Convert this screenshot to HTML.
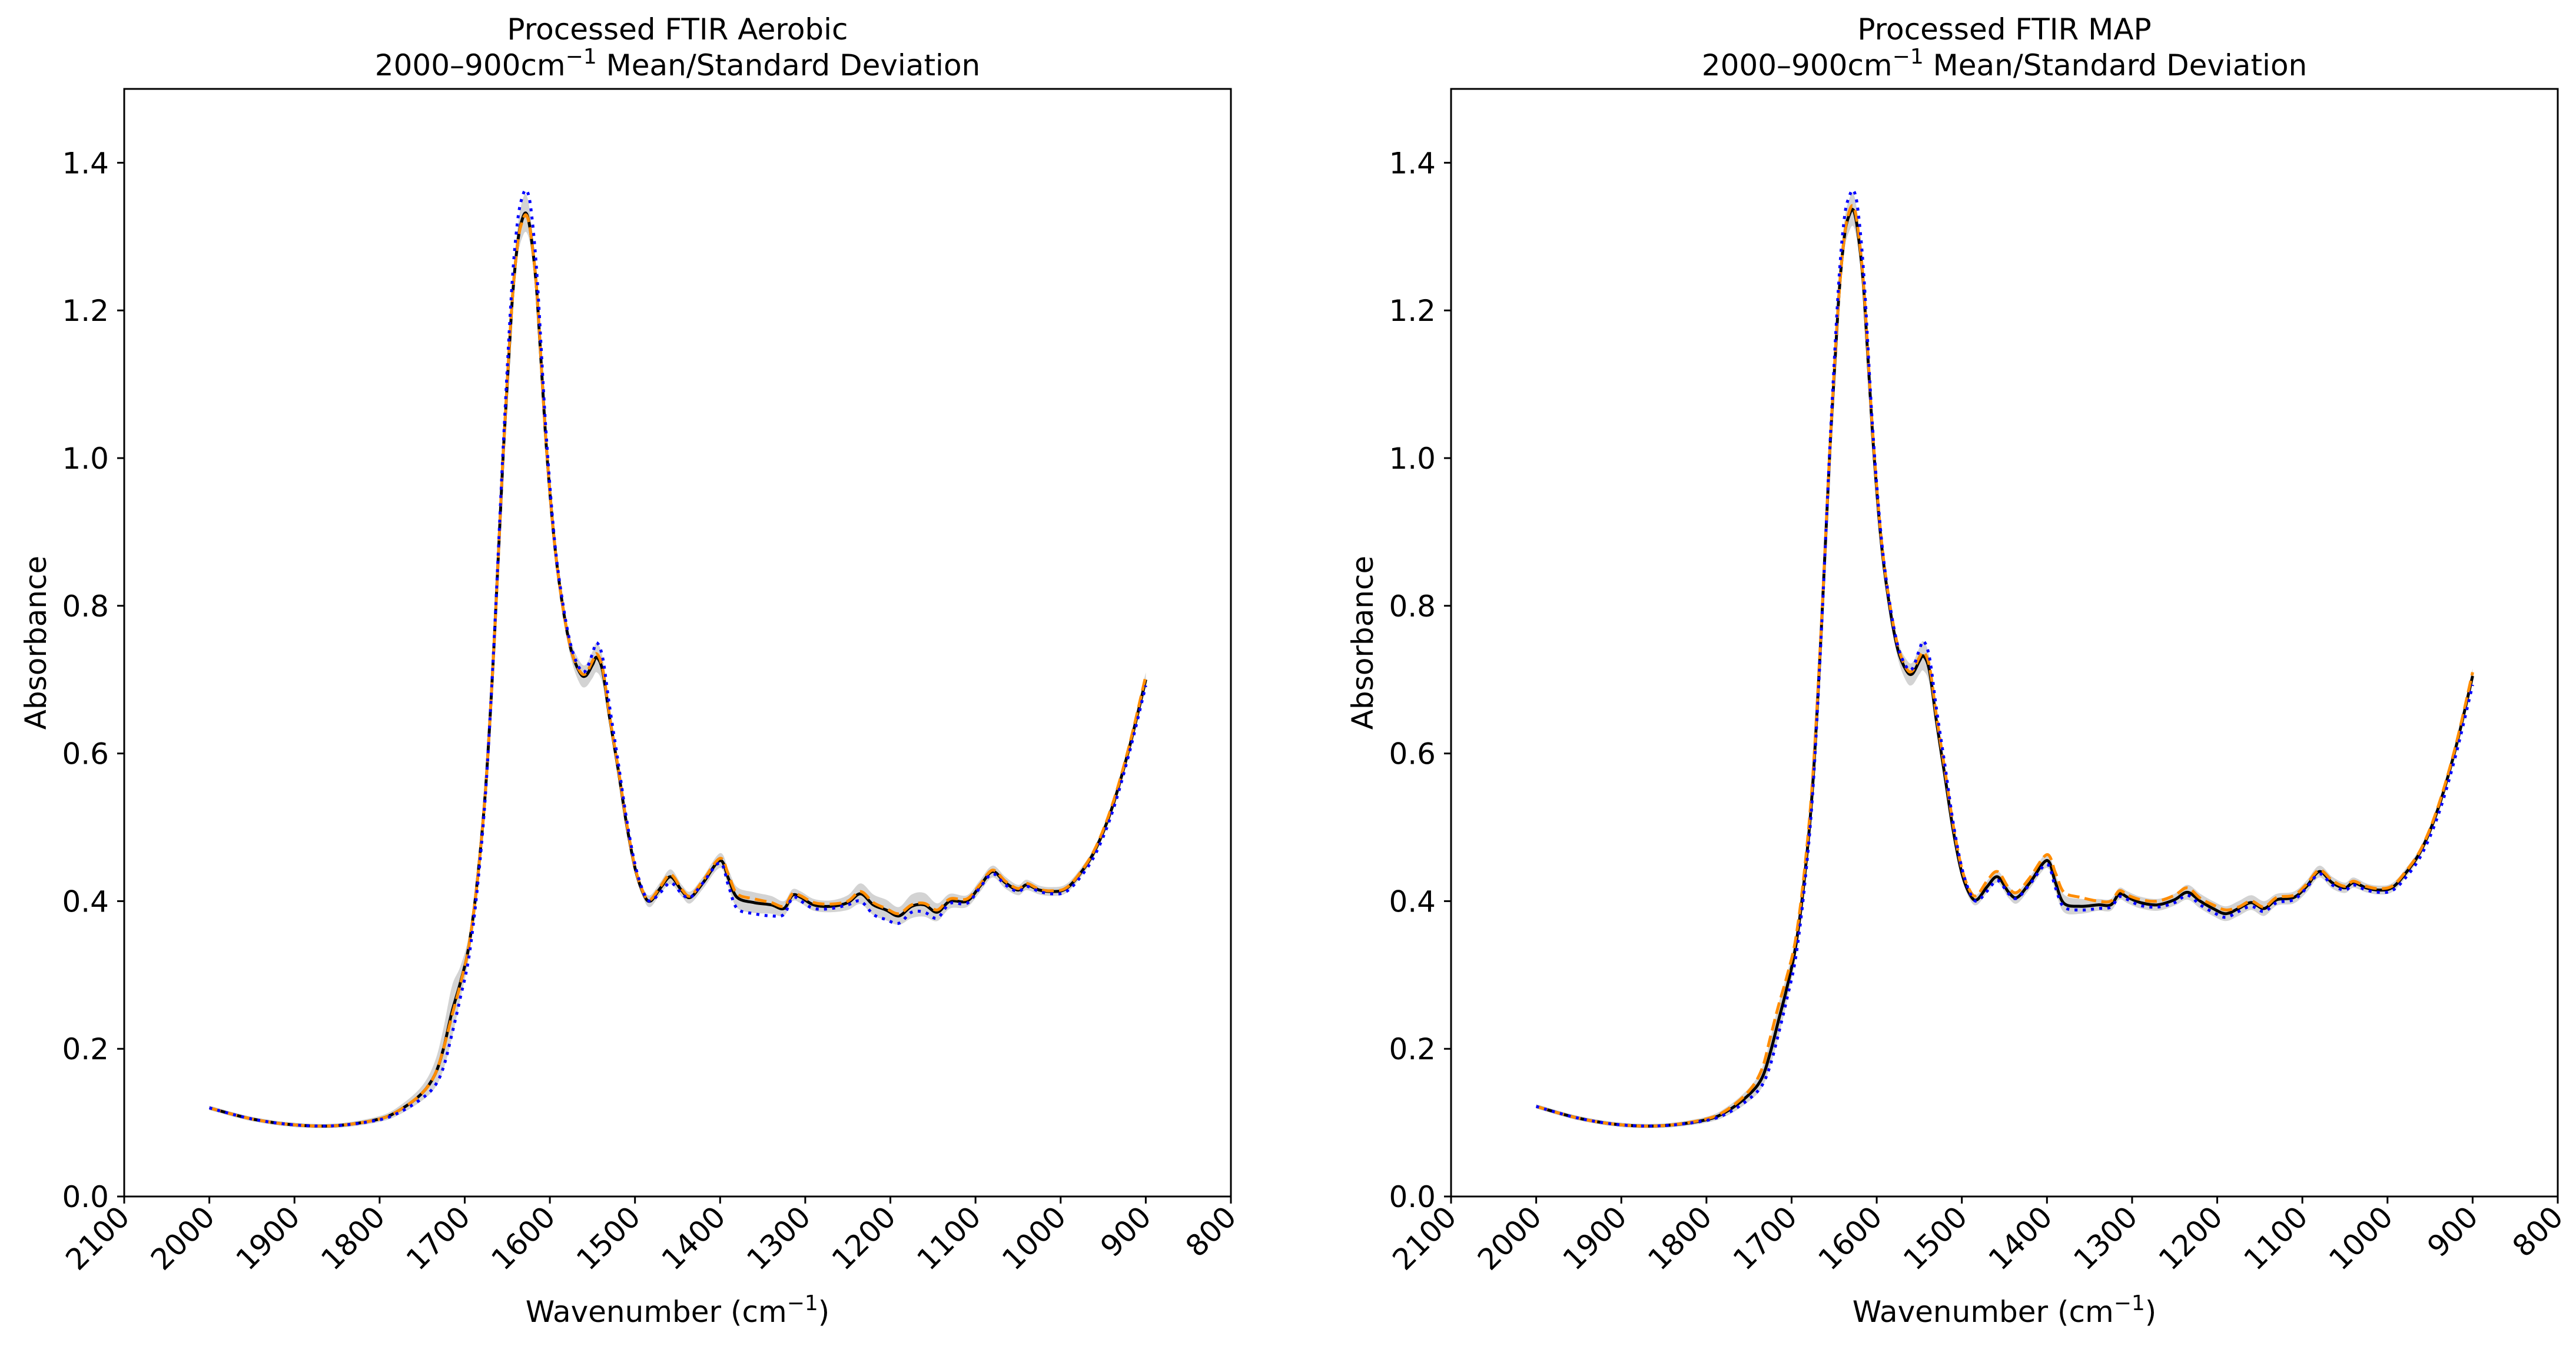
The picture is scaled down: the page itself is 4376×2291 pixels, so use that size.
<!DOCTYPE html>
<html><head><meta charset="utf-8"><style>
html,body{margin:0;padding:0;background:#fff;}
svg{display:block;font-family:"DejaVu Sans","Liberation Sans",sans-serif;}
</style></head><body>
<svg id="fig" width="4376" height="2291" viewBox="0 0 4376 2291" xmlns="http://www.w3.org/2000/svg"></svg>
<script>
// ---- data ----
const wavenumbers = [2000,1950,1900,1850,1800,1775,1750,1735,1725,1715,1705,1695,1685,1675,1665,1655,1645,1638,1632,1627,1622,1615,1605,1595,1585,1575,1565,1558,1550,1545,1538,1530,1520,1510,1500,1490,1482,1470,1458,1445,1435,1420,1400,1390,1380,1360,1340,1325,1315,1305,1290,1270,1250,1235,1220,1205,1190,1175,1160,1145,1130,1110,1095,1080,1065,1050,1040,1025,1010,995,980,960,940,920,900];
const aerobicMean = [0.120,0.105,0.097,0.096,0.105,0.118,0.140,0.165,0.200,0.250,0.290,0.340,0.430,0.560,0.760,1.000,1.200,1.290,1.325,1.330,1.300,1.220,1.030,0.890,0.800,0.740,0.710,0.705,0.720,0.730,0.712,0.650,0.580,0.505,0.445,0.410,0.400,0.418,0.433,0.414,0.405,0.425,0.455,0.430,0.405,0.398,0.395,0.390,0.408,0.405,0.395,0.393,0.398,0.410,0.395,0.388,0.380,0.393,0.395,0.385,0.400,0.400,0.420,0.440,0.425,0.415,0.422,0.415,0.413,0.416,0.433,0.468,0.525,0.605,0.700];
const aerobicOrange = [0.120,0.105,0.097,0.096,0.105,0.118,0.140,0.165,0.200,0.245,0.288,0.340,0.430,0.560,0.760,1.000,1.200,1.290,1.322,1.328,1.300,1.220,1.030,0.890,0.800,0.740,0.712,0.708,0.725,0.735,0.715,0.652,0.582,0.507,0.446,0.411,0.402,0.420,0.436,0.416,0.407,0.428,0.458,0.435,0.410,0.403,0.398,0.393,0.410,0.407,0.398,0.396,0.400,0.413,0.398,0.390,0.383,0.395,0.397,0.388,0.403,0.403,0.422,0.442,0.427,0.417,0.424,0.416,0.414,0.417,0.434,0.470,0.528,0.608,0.705];
const aerobicBlue = [0.120,0.105,0.097,0.096,0.104,0.115,0.133,0.150,0.175,0.220,0.270,0.325,0.420,0.555,0.765,1.010,1.225,1.320,1.355,1.362,1.335,1.245,1.045,0.895,0.805,0.745,0.715,0.712,0.735,0.750,0.730,0.665,0.590,0.512,0.450,0.412,0.400,0.412,0.425,0.410,0.405,0.425,0.452,0.420,0.390,0.383,0.380,0.382,0.405,0.400,0.390,0.390,0.395,0.400,0.382,0.375,0.370,0.385,0.385,0.377,0.397,0.397,0.418,0.437,0.422,0.413,0.420,0.413,0.410,0.412,0.428,0.462,0.518,0.598,0.692];
const aerobicStd = [0.003,0.003,0.003,0.003,0.004,0.006,0.010,0.018,0.028,0.035,0.022,0.015,0.012,0.012,0.012,0.012,0.015,0.020,0.025,0.025,0.020,0.015,0.012,0.010,0.010,0.012,0.015,0.015,0.018,0.020,0.018,0.012,0.010,0.008,0.007,0.007,0.008,0.008,0.010,0.008,0.008,0.008,0.010,0.012,0.014,0.014,0.012,0.010,0.008,0.008,0.008,0.008,0.010,0.014,0.014,0.014,0.012,0.016,0.016,0.012,0.010,0.008,0.008,0.008,0.008,0.007,0.007,0.006,0.006,0.006,0.006,0.006,0.007,0.008,0.010];
const mapMean = [0.122,0.106,0.097,0.096,0.104,0.116,0.138,0.160,0.195,0.240,0.285,0.340,0.430,0.560,0.770,1.010,1.210,1.300,1.330,1.335,1.305,1.225,1.035,0.890,0.800,0.740,0.712,0.708,0.725,0.732,0.712,0.645,0.570,0.495,0.438,0.408,0.402,0.420,0.433,0.412,0.405,0.425,0.455,0.425,0.397,0.393,0.395,0.395,0.410,0.405,0.398,0.395,0.402,0.412,0.400,0.390,0.383,0.390,0.398,0.390,0.402,0.405,0.420,0.440,0.425,0.418,0.425,0.418,0.415,0.418,0.436,0.470,0.527,0.607,0.705];
const mapOrange = [0.122,0.106,0.097,0.096,0.105,0.118,0.143,0.172,0.215,0.260,0.300,0.350,0.440,0.570,0.775,1.012,1.210,1.300,1.335,1.340,1.310,1.228,1.040,0.895,0.805,0.745,0.715,0.712,0.730,0.737,0.718,0.652,0.578,0.502,0.444,0.413,0.408,0.428,0.440,0.418,0.412,0.432,0.463,0.438,0.412,0.405,0.400,0.400,0.414,0.408,0.402,0.400,0.408,0.418,0.404,0.395,0.388,0.392,0.400,0.392,0.405,0.408,0.423,0.442,0.428,0.420,0.427,0.420,0.417,0.420,0.438,0.472,0.530,0.610,0.710];
const mapBlue = [0.122,0.106,0.097,0.096,0.103,0.113,0.132,0.150,0.178,0.222,0.270,0.325,0.418,0.550,0.765,1.015,1.230,1.325,1.355,1.362,1.335,1.245,1.045,0.897,0.805,0.745,0.717,0.715,0.740,0.752,0.730,0.662,0.585,0.505,0.445,0.410,0.400,0.414,0.428,0.410,0.404,0.423,0.450,0.418,0.392,0.388,0.390,0.392,0.406,0.402,0.394,0.392,0.398,0.408,0.395,0.385,0.378,0.386,0.393,0.386,0.398,0.402,0.418,0.437,0.422,0.415,0.422,0.415,0.412,0.414,0.430,0.463,0.518,0.597,0.693];
const mapStd = [0.003,0.003,0.003,0.003,0.004,0.006,0.009,0.013,0.018,0.022,0.018,0.014,0.012,0.012,0.012,0.012,0.015,0.020,0.022,0.022,0.020,0.015,0.012,0.010,0.010,0.012,0.015,0.015,0.018,0.020,0.018,0.012,0.010,0.008,0.007,0.007,0.007,0.008,0.008,0.008,0.008,0.008,0.010,0.012,0.012,0.010,0.008,0.008,0.008,0.008,0.008,0.008,0.008,0.010,0.010,0.010,0.010,0.010,0.010,0.010,0.008,0.008,0.008,0.008,0.008,0.007,0.007,0.006,0.006,0.006,0.006,0.006,0.007,0.008,0.010];
const xTicks = [2100,2000,1900,1800,1700,1600,1500,1400,1300,1200,1100,1000,900,800];
const yTicks = [0.0,0.2,0.4,0.6,0.8,1.0,1.2,1.4];
const panelTitles = ["Processed FTIR Aerobic","Processed FTIR MAP"];

// ---- drawing ----
const NS = "http://www.w3.org/2000/svg";
const svg = document.getElementById('fig');
function mk(tag, attrs, parent){ const e=document.createElementNS(NS,tag); for(const k in attrs) e.setAttribute(k,attrs[k]); (parent||svg).appendChild(e); return e; }
function smoothPath(pts){
  let d = `M${pts[0][0].toFixed(1)},${pts[0][1].toFixed(1)}`;
  for(let i=0;i<pts.length-1;i++){
    const p0=pts[Math.max(0,i-1)],p1=pts[i],p2=pts[i+1],p3=pts[Math.min(pts.length-1,i+2)];
    const c1x=p1[0]+(p2[0]-p0[0])/6,c1y=p1[1]+(p2[1]-p0[1])/6;
    const c2x=p2[0]-(p3[0]-p1[0])/6,c2y=p2[1]-(p3[1]-p1[1])/6;
    d+=`C${c1x.toFixed(1)},${c1y.toFixed(1)} ${c2x.toFixed(1)},${c2y.toFixed(1)} ${p2[0].toFixed(1)},${p2[1].toFixed(1)}`;
  }
  return d;
}
const FS = 50;
function panel(left, title, mean, orange, blue, std, key){
  const right = left + 1880, top = 151, bottom = 2032;
  const xs = v => left + (2100 - v) / 1300 * (right - left);
  const ys = v => bottom - v / 1.5 * (bottom - top);
  const g = mk('g', {});
  
  
  // band
  const up = wavenumbers.map((w,i)=>[xs(w),ys(mean[i]+std[i])]);
  const lo = wavenumbers.map((w,i)=>[xs(w),ys(mean[i]-std[i])]).reverse();
  const bandD = smoothPath(up) + smoothPath(lo).replace('M','L') + 'Z';
  const band = mk('path', {d: bandD, fill: '#d3d3d3', stroke: 'none'}, g);
  
  
  const mline = mk('path', {d: smoothPath(wavenumbers.map((w,i)=>[xs(w),ys(mean[i])])), fill:'none', stroke:'#000', 'stroke-width':5}, g);
  
  
  const oline = mk('path', {d: smoothPath(wavenumbers.map((w,i)=>[xs(w),ys(orange[i])])), fill:'none', stroke:'#ff8c00', 'stroke-width':5, 'stroke-dasharray':'20 9'}, g);
  
  
  const bline = mk('path', {d: smoothPath(wavenumbers.map((w,i)=>[xs(w),ys(blue[i])])), fill:'none', stroke:'#0000ff', 'stroke-width':5, 'stroke-dasharray':'5 9'}, g);
  
  
  // frame
  const frame = mk('rect', {x:left, y:top, width:right-left, height:bottom-top, fill:'none', stroke:'#000', 'stroke-width':3}, g);
  
  
  xTicks.forEach(t=>{
    const x = xs(t);
    mk('line', {x1:x, x2:x, y1:bottom, y2:bottom+12, stroke:'#000', 'stroke-width':3}, g);
    const tx = mk('text', {x:0, y:0, 'font-size':FS, 'text-anchor':'end', transform:`translate(${x+12},${bottom+38}) rotate(-45)`}, g);
    tx.textContent = t;
    
    
  });
  yTicks.forEach(t=>{
    const y = ys(t);
    mk('line', {x1:left-12, x2:left, y1:y, y2:y, stroke:'#000', 'stroke-width':3}, g);
    const ty = mk('text', {x:left-26, y:y+18, 'font-size':FS, 'text-anchor':'end'}, g);
    ty.textContent = t.toFixed(1);
    
    
  });
  const cx = (left+right)/2;
  const t1 = mk('text', {x:cx, y:67, 'font-size':FS, 'text-anchor':'middle'}, g);
  t1.textContent = title;
  
  
  const t2 = mk('text', {x:cx, y:128, 'font-size':FS, 'text-anchor':'middle'}, g);
  t2.innerHTML = '2000–900cm<tspan dy="-20" font-size="36">−1</tspan><tspan dy="20"> Mean/Standard Deviation</tspan>';
  
  
  const xl = mk('text', {x:cx, y:2245, 'font-size':FS, 'text-anchor':'middle'}, g);
  xl.innerHTML = 'Wavenumber (cm<tspan dy="-20" font-size="36">−1</tspan><tspan dy="20">)</tspan>';
  
  
  const yl = mk('text', {x:0, y:0, 'font-size':FS, 'text-anchor':'middle', transform:`translate(${left-133},${(top+bottom)/2}) rotate(-90)`}, g);
  yl.textContent = 'Absorbance';
  
  
}
panel(211, panelTitles[0], aerobicMean, aerobicOrange, aerobicBlue, aerobicStd, 'aerobic');
panel(2465, panelTitles[1], mapMean, mapOrange, mapBlue, mapStd, 'map');
</script>
</body></html>
